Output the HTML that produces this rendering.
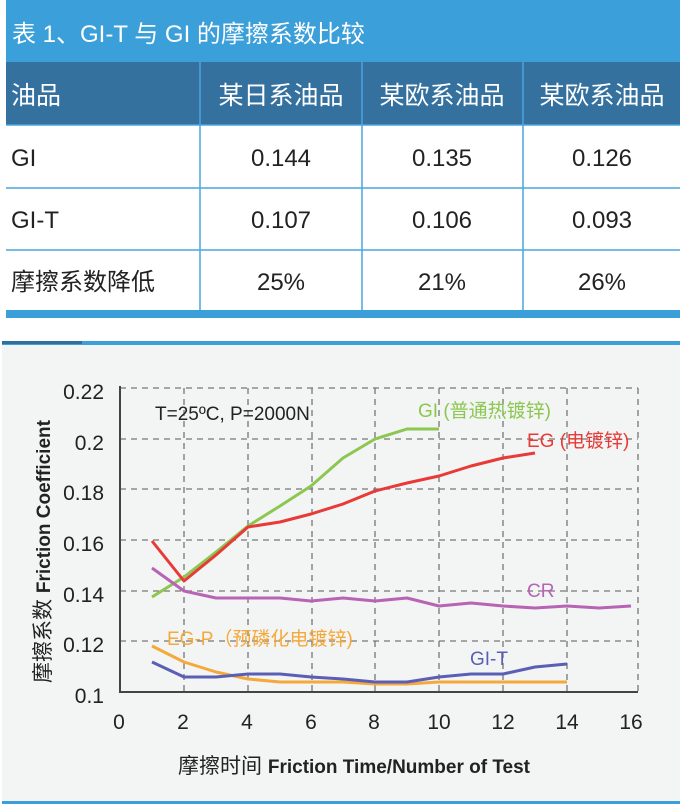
<!DOCTYPE html>
<html><head><meta charset="utf-8"><style>
html,body{margin:0;padding:0;background:#fff;}
svg{display:block;}
text{font-family:"Liberation Sans Narrow","Liberation Sans","Noto Sans CJK SC",sans-serif;}
</style></head><body>
<svg width="680" height="806" viewBox="0 0 680 806" xmlns="http://www.w3.org/2000/svg">
<!-- table -->
<rect x="6" y="0" width="674" height="62" fill="#3b9fd9"/>
<text x="12" y="42" font-size="24" fill="#fff" font-family="Liberation Sans Narrow, Noto Sans CJK SC, sans-serif">表 1、GI-T 与 GI 的摩擦系数比较</text>
<rect x="6" y="62" width="674" height="63" fill="#35719f"/>
<g stroke="#4aa6df" stroke-width="1.5">
<line x1="200" y1="62" x2="200" y2="310"/><line x1="362" y1="62" x2="362" y2="310"/><line x1="523" y1="62" x2="523" y2="310"/>
<line x1="6" y1="125" x2="680" y2="125"/><line x1="6" y1="188" x2="680" y2="188"/><line x1="6" y1="250" x2="680" y2="250"/>
</g>
<rect x="6" y="310" width="674" height="8" fill="#3b9fd9"/>
<g font-size="25" fill="#fff" font-family="Liberation Sans Narrow, Noto Sans CJK SC, sans-serif">
<text x="11" y="104">油品</text>
<text x="281" y="104" text-anchor="middle">某日系油品</text>
<text x="442" y="104" text-anchor="middle">某欧系油品</text>
<text x="602" y="104" text-anchor="middle">某欧系油品</text>
</g>
<g font-size="24" fill="#222">
<text x="11" y="166">GI</text><text x="281" y="166" text-anchor="middle">0.144</text><text x="442" y="166" text-anchor="middle">0.135</text><text x="602" y="166" text-anchor="middle">0.126</text>
<text x="11" y="228">GI-T</text><text x="281" y="228" text-anchor="middle">0.107</text><text x="442" y="228" text-anchor="middle">0.106</text><text x="602" y="228" text-anchor="middle">0.093</text>
<text x="11" y="290">摩擦系数降低</text><text x="281" y="290" text-anchor="middle">25%</text><text x="442" y="290" text-anchor="middle">21%</text><text x="602" y="290" text-anchor="middle">26%</text>
</g>
<!-- chart panel -->
<rect x="2" y="341" width="678" height="463" fill="#f3f4f4"/>
<rect x="2" y="341" width="678" height="4" fill="#3b9fd9"/>
<rect x="2" y="341" width="80" height="3" fill="#2f6f9e"/>
<rect x="2" y="801" width="678" height="3" fill="#3b9fd9"/>
<!-- grid -->
<g stroke="#777" stroke-width="1.3" stroke-dasharray="6,5">
<line x1="120" y1="388" x2="638" y2="388"/><line x1="120" y1="439" x2="638" y2="439"/><line x1="120" y1="489" x2="638" y2="489"/>
<line x1="120" y1="540" x2="638" y2="540"/><line x1="120" y1="591" x2="638" y2="591"/><line x1="120" y1="641" x2="638" y2="641"/>
<line x1="184" y1="388" x2="184" y2="692"/><line x1="248" y1="388" x2="248" y2="692"/><line x1="312" y1="388" x2="312" y2="692"/>
<line x1="375" y1="388" x2="375" y2="692"/><line x1="439" y1="388" x2="439" y2="692"/><line x1="503" y1="388" x2="503" y2="692"/>
<line x1="567" y1="388" x2="567" y2="692"/><line x1="638" y1="388" x2="638" y2="692"/>
</g>
<g stroke="#444" stroke-width="2"><line x1="120" y1="386" x2="120" y2="693"/><line x1="119" y1="692" x2="638" y2="692"/></g>
<g font-size="21" fill="#222" text-anchor="end">
<text x="104" y="399">0.22</text><text x="104" y="450">0.2</text><text x="104" y="500">0.18</text><text x="104" y="551">0.16</text><text x="104" y="602">0.14</text><text x="104" y="652">0.12</text><text x="104" y="703">0.1</text>
</g>
<g font-size="21" fill="#222" text-anchor="middle">
<text x="119" y="729">0</text><text x="183" y="729">2</text><text x="247" y="729">4</text><text x="311" y="729">6</text><text x="374" y="729">8</text><text x="439" y="729">10</text><text x="503" y="729">12</text><text x="567" y="729">14</text><text x="631" y="729">16</text>
</g>
<text x="178" y="773" font-size="21" fill="#222">摩擦时间 <tspan font-size="19" font-weight="bold" font-family="Liberation Sans Narrow, sans-serif">Friction Time/Number of Test</tspan></text>
<text transform="translate(50,683) rotate(-90)" font-size="21" fill="#222">摩擦系数 <tspan font-size="19" font-weight="bold">Friction Coefficient</tspan></text>
<text x="155" y="420" font-size="19" fill="#222">T=25ºC, P=2000N</text>
<!-- series: x=120+t*31.9, y=692-(v-0.1)*2533 -->
<g fill="none" stroke-width="3" stroke-linejoin="round">
<polyline stroke="#8cc751" points="152,597 184,577 216,552 248,526 280,506 311,486 343,458 375,439 407,429 439,429"/>
<polyline stroke="#e83a36" points="152,541 184,581 216,555 248,527 280,522 311,514 343,504 375,491 407,483 439,476 471,466 503,458 535,453"/>
<polyline stroke="#b764b5" points="152,568 184,591 216,598 248,598 280,598 311,601 343,598 375,601 407,598 439,606 471,603 503,606 535,608 567,606 599,608 631,606"/>
<polyline stroke="#f5a93a" points="152,646 184,662 216,672 248,679 280,682 311,682 343,682 375,684 407,684 439,682 471,682 503,682 535,682 567,682"/>
<polyline stroke="#5a5fb5" points="152,662 184,677 216,677 248,674 280,674 311,677 343,679 375,682 407,682 439,677 471,674 503,674 535,667 567,664"/>
</g>
<text x="418" y="417" font-size="19" fill="#8cc751">GI (普通热镀锌)</text>
<text x="527" y="447" font-size="19" fill="#e83a36">EG (电镀锌)</text>
<text x="527" y="597" font-size="19" fill="#b764b5">CR</text>
<text x="167" y="645" font-size="19" fill="#f5a93a">EG-P（预磷化电镀锌)</text>
<text x="470" y="665" font-size="19" fill="#5a5fb5">GI-T</text>
</svg>
</body></html>
